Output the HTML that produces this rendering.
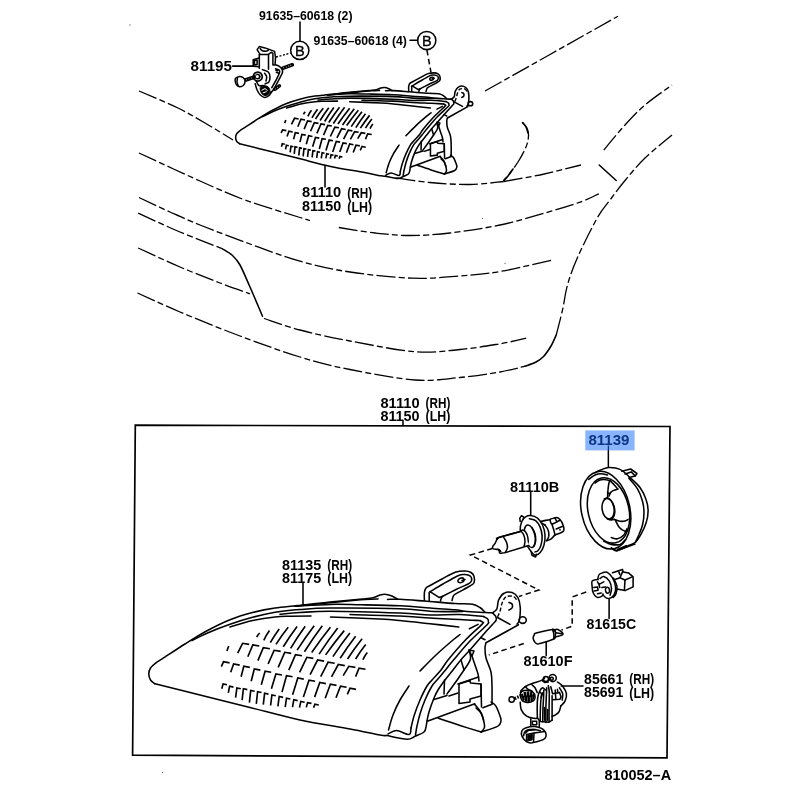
<!DOCTYPE html>
<html><head><meta charset="utf-8"><title>810052-A</title>
<style>html,body{margin:0;padding:0;background:#fff}body{width:800px;height:800px;overflow:hidden}svg{display:block;transform:translateZ(0);will-change:transform}</style>
</head><body>
<svg width="800" height="800" viewBox="0 0 800 800">
<defs>
<style>
.l{fill:none;stroke:#000;stroke-width:1.55;stroke-linecap:round;stroke-linejoin:round;vector-effect:non-scaling-stroke}
.h{fill:none;stroke:#000;stroke-width:1.65;stroke-linecap:butt;stroke-linejoin:miter;vector-effect:non-scaling-stroke}
.w{fill:#fff;stroke:#000;stroke-width:1.5;stroke-linejoin:round;vector-effect:non-scaling-stroke}
.k{fill:#000;stroke:#000;stroke-width:1;stroke-linejoin:round}
.c{fill:none;stroke:#000;stroke-width:1.3;stroke-dasharray:19 3.2 6 3.2}
.d{fill:none;stroke:#000;stroke-width:1.5;stroke-dasharray:5.5 3.5}
.d2{fill:none;stroke:#000;stroke-width:1.4;stroke-dasharray:4 2;vector-effect:non-scaling-stroke}
.dt{fill:none;stroke:#000;stroke-width:1.4;stroke-dasharray:2 1.6}
.box{fill:none;stroke:#000;stroke-width:1.7}
text{font-family:"Liberation Sans",sans-serif;font-weight:bold;font-size:14.5px;fill:#000}
.b{font-weight:normal;font-size:14.5px;stroke:#000;stroke-width:0.35px}
</style>
<g id="lamp">
<path class="l" d="M155.0 683.8 C154.2 683.1 151.5 681.6 150.5 680.0 C149.5 678.4 148.8 676.0 148.8 674.0 C148.8 672.0 149.3 669.9 150.5 668.0 C151.7 666.1 154.0 664.4 156.0 662.8 C158.0 661.2 157.7 661.7 162.5 658.6 C167.3 655.5 177.5 648.7 185.0 644.0 C192.5 639.3 200.0 634.5 207.5 630.5 C215.0 626.5 222.5 622.7 230.0 619.7 C237.5 616.7 245.0 614.5 252.5 612.5 C260.0 610.5 267.5 609.1 275.0 608.0 C282.5 606.9 288.3 606.6 297.5 605.6 C306.7 604.6 318.8 603.0 330.0 601.9 C341.2 600.8 357.7 599.5 365.0 598.8 C372.3 598.0 371.2 598.1 373.8 597.5 C376.2 596.9 377.9 595.5 380.0 595.0 C382.1 594.5 384.2 594.2 386.2 594.4 C388.3 594.6 390.5 595.4 392.5 596.2 C394.5 597.1 397.1 598.9 398.0 599.4"/>
<path class="l" d="M387.5 599.4 C389.6 599.4 393.8 599.0 400.0 599.3 C406.2 599.6 415.8 600.4 425.0 601.1 C434.2 601.8 447.1 603.0 455.0 603.5 C462.9 604.0 468.3 603.5 472.5 604.2 C476.7 604.9 477.9 606.2 480.0 607.5 C482.1 608.8 484.2 611.4 485.0 612.2"/>
<path class="l" d="M295.0 606.3 C300.8 605.7 318.3 603.9 330.0 602.8 C341.7 601.7 357.0 600.2 365.0 599.6 C373.0 599.0 375.8 599.0 378.0 598.9"/>
<path class="l" d="M155.0 683.8 C162.5 685.6 184.2 691.0 200.0 695.0 C215.8 699.0 233.3 703.3 250.0 707.5 C266.7 711.7 283.3 716.4 300.0 720.0 C316.7 723.6 336.7 726.5 350.0 729.0 C363.3 731.5 373.8 733.9 380.0 735.0 C386.2 736.1 385.8 735.4 387.0 735.5"/>
<path class="l" d="M387.0 735.5 C390.3 736.1 402.3 739.1 407.0 739.2 C411.7 739.3 412.2 737.5 415.0 736.3 C417.8 735.1 422.2 733.5 424.0 732.0 C425.8 730.5 425.5 728.8 426.0 727.0 C426.5 725.2 426.8 722.0 427.0 721.0"/>
<path class="l" d="M388.0 734.0 C389.4 733.4 393.0 730.4 396.5 730.5 C400.0 730.6 406.6 734.9 409.0 734.5 C411.4 734.1 410.7 729.1 411.0 728.0"/>
<path class="l" d="M295.0 606.3 C300.8 606.0 319.0 604.6 330.0 604.4 C341.0 604.1 349.3 604.6 361.0 604.8 C372.7 605.0 388.5 605.2 400.0 605.8 C411.5 606.3 420.8 607.4 430.0 608.1 C439.2 608.8 449.2 609.3 455.0 609.8 C460.8 610.3 460.0 610.8 465.0 611.2 C470.0 611.7 480.4 612.2 485.0 612.5 C489.6 612.8 491.2 612.8 492.5 612.8"/>
<path class="l" d="M492.5 612.8 C493.0 613.4 495.0 615.0 495.6 616.2 C496.2 617.5 496.8 618.6 496.2 620.0 C495.7 621.4 495.0 621.6 492.5 624.4 C490.0 627.2 484.0 633.8 481.2 636.9 C478.5 640.0 478.0 640.6 476.0 643.0 C474.0 645.4 471.7 648.0 469.0 651.0 C466.3 654.0 462.7 657.8 460.0 661.0 C457.3 664.2 455.5 666.8 453.0 670.0 C450.5 673.2 447.5 676.7 445.0 680.0 C442.5 683.3 439.8 687.0 438.0 690.0 C436.2 693.0 435.5 694.3 434.0 698.0 C432.5 701.7 430.2 708.2 429.0 712.0 C427.8 715.8 427.3 719.5 427.0 721.0"/>
<path class="l" d="M480.6 637.5 L485.0 639.7"/>
<path class="l" d="M192.0 640.6 C194.6 639.3 201.2 635.7 207.5 633.0 C213.8 630.3 222.5 626.9 230.0 624.3 C237.5 621.7 245.0 619.3 252.5 617.3 C260.0 615.3 267.1 613.6 275.0 612.3 C282.9 611.0 290.8 610.2 300.0 609.5 C309.2 608.8 313.3 608.2 330.0 608.1 C346.7 608.0 383.3 608.2 400.0 608.8 C416.7 609.3 420.8 610.8 430.0 611.2 C439.2 611.7 449.5 611.6 455.0 611.6 C460.5 611.6 461.7 611.4 463.0 611.4"/>
<path class="l" d="M280.0 614.3 C283.3 614.0 291.7 613.1 300.0 612.6 C308.3 612.1 313.3 611.2 330.0 611.2 C346.7 611.3 383.3 612.4 400.0 613.0 C416.7 613.6 420.0 614.7 430.0 615.0 C440.0 615.3 451.0 614.3 460.0 614.6 C469.0 614.9 479.8 616.3 483.8 616.6"/>
<path class="l" d="M483.8 616.6 C484.4 617.0 486.7 617.9 487.5 618.8 C488.3 619.6 488.5 620.9 488.4 621.9 C488.3 622.9 490.0 621.8 486.9 625.0 C483.8 628.2 475.6 635.2 470.0 641.0 C464.4 646.8 457.6 655.2 453.5 660.0 C449.4 664.8 448.2 666.7 445.5 670.0 C442.8 673.3 439.2 677.3 437.0 680.0 C434.8 682.7 434.0 682.7 432.0 686.0 C430.0 689.3 427.0 695.3 425.0 700.0 C423.0 704.7 421.3 709.7 420.0 714.0 C418.7 718.3 417.8 722.5 417.0 726.0 C416.2 729.5 415.8 733.5 415.5 735.0"/>
<path class="l" d="M350.0 614.5 C358.3 614.8 386.7 615.4 400.0 616.0 C413.3 616.6 420.0 617.5 430.0 618.1 C440.0 618.7 451.7 619.0 460.0 619.4 C468.3 619.8 476.7 620.4 480.0 620.6"/>
<path class="l" d="M480.0 620.6 C480.4 620.9 482.2 621.6 482.5 622.2 C482.8 622.8 484.8 621.4 481.9 624.4 C479.0 627.4 470.6 634.6 465.0 640.5 C459.4 646.4 452.0 655.1 448.0 660.0 C444.0 664.9 443.7 666.7 441.0 670.0 C438.3 673.3 434.3 677.3 432.0 680.0 C429.7 682.7 429.0 682.7 427.0 686.0 C425.0 689.3 422.2 695.0 420.0 700.0 C417.8 705.0 415.5 711.3 414.0 716.0 C412.5 720.7 411.5 726.0 411.0 728.0"/>
<path class="l" d="M230.0 627.0 C233.8 625.9 245.0 622.3 252.5 620.6 C260.0 618.9 268.8 617.7 275.0 617.0 C281.2 616.3 284.0 616.4 290.0 616.2 C296.0 616.0 307.5 616.0 311.0 616.0"/>
<path class="l" d="M330.5 617.0 C338.8 617.3 368.4 618.4 380.0 619.0 C391.6 619.6 391.7 619.7 400.0 620.5 C408.3 621.3 420.2 622.7 430.0 623.8 C439.8 624.8 454.0 626.4 458.8 626.9"/>
<path class="l" d="M469.4 628.8 L478.1 624.4"/>
<path class="l" d="M460.0 634.5 C458.8 635.4 457.0 636.6 453.0 640.0 C449.0 643.4 441.5 649.8 436.0 655.0 C430.5 660.2 422.7 668.3 420.0 671.0"/>
<path class="l" d="M409.0 686.0 C407.5 688.3 402.7 695.2 400.0 700.0 C397.3 704.8 394.9 710.0 393.0 715.0 C391.1 720.0 389.2 727.5 388.5 730.0"/>
<path class="l" d="M424.4 600.6 C424.4 599.2 424.1 594.6 424.4 592.5 C424.7 590.4 425.2 589.1 426.0 588.0 C426.8 586.9 426.6 587.5 429.2 586.0 C431.9 584.5 437.7 581.3 442.0 579.0 C446.3 576.7 451.4 573.5 455.2 572.2 C459.1 570.9 462.4 571.0 465.0 571.0 C467.6 571.0 469.5 571.6 471.0 572.5 C472.5 573.4 473.5 574.5 474.0 576.2 C474.5 578.0 474.7 581.1 474.0 582.8 C473.3 584.4 473.1 584.1 470.0 586.0 C466.9 587.9 458.1 592.3 455.2 594.1 C452.4 595.9 453.5 595.9 453.0 597.0 C452.5 598.1 452.2 600.0 452.0 600.6"/>
<path class="l" d="M430.0 591.7 C432.2 590.4 438.5 586.6 443.0 584.0 C447.5 581.4 453.6 577.8 456.9 576.2 C460.2 574.7 461.1 574.7 463.0 574.5 C464.9 574.3 466.8 574.4 468.2 575.0 C469.7 575.6 471.2 576.6 471.5 577.9 C471.8 579.2 472.5 580.8 469.9 582.8 C467.3 584.7 460.6 587.2 456.0 589.5 C451.4 591.8 444.5 595.3 442.2 596.5"/>
<path class="l" d="M429.2 592.5 L429.2 600.6"/>
<path class="l" d="M430.0 591.7 L439.0 597.4 L442.2 596.5"/>
<path class="l" d="M442.2 596.5 C442.0 596.9 441.3 598.2 441.0 599.0 C440.7 599.8 440.6 600.7 440.5 601.0"/>
<ellipse class="l" cx="461" cy="580.3" rx="3.2" ry="2.2" transform="rotate(-20 461 580.3)"/>
<path class="l" d="M462.0 580.5 L465.0 579.5"/>
<path class="l" d="M492.5 612.8 C493.2 612.1 495.9 610.9 496.9 608.8 C497.9 606.6 497.4 602.6 498.6 600.0 C499.8 597.4 501.8 594.5 504.0 593.3 C506.2 592.0 509.8 591.8 512.1 592.5 C514.4 593.2 516.4 595.0 517.8 597.4 C519.2 599.8 520.0 603.3 520.2 607.1 C520.5 610.9 519.9 617.2 519.4 620.1 C518.9 623.0 517.4 623.5 517.0 624.2"/>
<path class="d2" d="M497.5 616.9 C497.9 616.0 499.2 613.7 500.0 611.2 C500.8 608.8 501.3 604.7 502.4 602.2 C503.5 599.8 504.5 597.5 506.4 596.6 C508.3 595.7 512.0 595.9 513.8 596.6 C515.5 597.3 516.5 599.9 517.0 600.6"/>
<path class="l" d="M509.0 602.5 C509.5 602.8 511.5 603.1 512.0 604.0 C512.5 604.9 512.5 607.0 512.0 608.0 C511.5 609.0 509.5 609.7 509.0 610.0"/>
<ellipse class="l" cx="522.7" cy="620.1" rx="3.6" ry="3.3"/>
<path class="l" d="M497.5 617.5 L510.0 624.4"/>
<path class="l" d="M518.5 624.8 L486.0 642.8"/>
<path class="l" d="M486.0 642.8 C485.8 643.7 485.0 645.5 485.0 648.0 C485.0 650.5 485.0 654.0 486.0 658.0 C487.0 662.0 490.0 667.3 491.0 672.0 C492.0 676.7 491.8 680.7 492.0 686.0 C492.2 691.3 492.0 701.0 492.0 704.0"/>
<path class="l" d="M469.0 650.0 L474.0 651.0 L472.0 656.0Z"/>
<path class="l" d="M469.0 650.0 C469.2 651.5 471.3 655.7 470.5 659.0 C469.7 662.3 466.6 666.0 464.0 670.0 C461.4 674.0 457.8 679.0 455.0 683.0 C452.2 687.0 448.3 692.2 447.0 694.0"/>
<path class="l" d="M461.0 660.0 L464.0 670.0"/>
<path class="l" d="M472.0 656.0 C472.5 657.5 474.0 662.0 475.0 665.0 C476.0 668.0 477.3 671.3 478.0 674.0 C478.7 676.7 478.8 679.8 479.0 681.0"/>
<path class="l" d="M444.5 680.0 L444.0 694.0"/>
<path class="l" d="M434.0 699.5 L447.0 695.5"/>
<path class="l" d="M449.0 696.0 L458.0 693.0"/>
<path class="l" d="M458.0 684.0 L478.5 677.0"/>
<path class="l" d="M459.0 684.0 L470.0 680.5 L470.5 683.0 L481.0 684.0 L481.0 696.0 L470.0 699.0 L470.0 702.0 L459.0 703.5Z"/>
<path class="l" d="M481.0 684.0 L481.5 707.0"/>
<path class="l" d="M428.0 721.0 L474.8 703.7"/>
<path class="l" d="M438.2 718.3 C441.8 719.5 452.8 723.2 460.0 725.5 C467.2 727.8 477.7 731.0 481.2 732.1"/>
<path class="l" d="M481.2 732.1 C484.0 731.1 494.2 728.2 497.5 726.4 C500.8 724.5 500.6 722.8 501.0 721.0 C501.4 719.2 500.9 718.4 500.0 715.9 C499.1 713.4 497.4 708.4 495.9 706.1 C494.4 703.8 491.8 702.7 491.0 702.0"/>
<path class="l" d="M482.9 707.8 L492.0 704.3"/>
<path class="l" d="M474.8 704.5 C475.6 705.6 478.6 708.8 480.0 711.0 C481.4 713.2 482.1 714.8 482.9 717.5 C483.6 720.2 484.8 724.8 484.5 727.2 C484.2 729.7 481.8 731.3 481.2 732.1"/>
<path class="l" d="M476.0 708.0 C476.8 708.8 479.8 711.0 481.0 713.0 C482.2 715.0 483.1 718.8 483.5 720.0"/>
<path class="h" d="M256.8 637.1 Q257.8 634.7 259.7 633.0 M263.8 640.3 Q266.2 635.1 269.5 630.6 M270.3 642.7 Q274.3 635.5 279.2 628.9 M276.0 644.4 Q281.6 635.5 288.2 627.3 M283.3 646.8 Q289.7 636.3 297.1 626.5 M290.6 648.4 Q297.4 637.0 305.2 626.2 M297.1 650.1 Q305.2 637.5 314.2 625.7 M304.4 651.7 Q312.9 638.3 322.3 625.7 M311.7 652.5 Q320.6 639.6 330.4 627.3 M319.1 654.1 Q327.9 640.8 337.7 628.1 M325.6 654.9 Q334.4 642.4 344.2 630.6 M332.9 656.6 Q340.9 644.4 349.9 633.0 M340.2 658.2 Q347.4 646.9 355.6 636.2 M347.5 659.0 Q354.3 648.5 362.1 638.7 M355.6 659.0 Q360.2 651.3 365.7 644.4 M362.9 659.8 Q364.6 655.8 367.3 652.5 M226.9 651.0 L228.7 646.0 M237.7 653.2 L242.6 643.3 L249.2 644.4 M247.8 656.8 L252.8 644.9 L259.3 646.0 M257.9 660.6 L263.3 647.6 L269.9 648.7 M268.1 664.0 L274.1 650.3 L280.7 651.4 M278.2 667.4 L284.7 652.3 L291.2 653.4 M288.8 670.1 L295.5 654.6 L302.0 655.7 M299.6 672.3 L306.8 657.3 L313.3 658.4 M310.1 674.6 L317.6 660.0 L324.1 661.1 M320.7 676.6 L328.1 662.2 L334.7 663.3 M331.5 676.8 L338.3 664.5 L344.8 665.6 M343.2 675.7 L348.8 666.3 L355.4 667.4 M355.6 676.6 L359.0 668.1 L365.5 669.2 M221.3 666.7 L223.5 661.8 L229.6 662.9 M230.7 672.3 L233.6 664.0 L239.7 665.1 M241.1 676.8 L243.8 666.3 L249.8 667.4 M251.2 681.3 L254.3 669.0 L260.4 670.1 M261.3 684.7 L265.1 671.2 L271.2 672.3 M271.4 688.8 L275.9 673.9 L282.0 675.0 M282.0 692.1 L286.5 675.7 L292.6 676.8 M292.6 694.8 L297.8 678.0 L303.8 679.1 M303.4 697.1 L309.0 680.2 L315.1 681.3 M314.6 697.1 L319.8 682.5 L325.9 683.6 M325.2 698.2 L330.4 684.3 L336.5 685.4 M336.0 697.8 L340.5 686.1 L346.6 687.2 M347.3 694.4 L350.0 688.3 L356.0 689.4 M221.8 688.7 L223.1 683.9 L227.0 684.7 M228.3 692.8 L229.6 686.3 L233.5 687.1 M235.6 697.7 L236.9 687.9 L240.8 688.7 M242.1 700.1 L243.4 688.7 L247.3 689.6 M249.4 702.6 L250.7 690.4 L254.6 691.2 M256.3 703.9 L257.6 691.7 L261.5 692.5 M263.3 704.7 L264.6 693.3 L268.5 694.1 M270.6 705.5 L271.9 694.9 L275.8 695.7 M277.9 706.3 L279.2 696.5 L283.1 697.4 M285.2 707.1 L286.5 698.2 L290.4 699.0 M292.5 707.1 L293.8 699.8 L297.7 700.6 M299.5 707.6 L300.8 701.4 L304.7 702.2 M306.3 707.4 L307.6 702.6 L311.5 703.4 M313.6 707.8 L314.9 704.2 L318.8 705.0"/>
</g>
</defs>
<rect width="800" height="800" fill="#fff"/>

<path class="c" d="M485.0 91.0 L550.0 54.5 L618.0 16.2"/>
<path class="c" d="M139.0 91.0 C145.5 93.8 167.0 102.7 178.0 108.0 C189.0 113.3 195.8 117.7 205.0 123.0 C214.2 128.3 228.3 137.2 233.0 140.0"/>
<path class="c" d="M139.0 153.0 C149.2 157.7 182.3 173.2 200.0 181.0 C217.7 188.8 228.3 193.9 245.0 200.0 C261.7 206.1 289.2 214.1 300.0 217.5 C310.8 220.9 308.3 220.0 310.0 220.5"/>
<path class="c" d="M338.8 227.5 C344.8 228.4 363.1 231.7 375.0 233.0 C386.9 234.3 397.5 235.5 410.0 235.5 C422.5 235.5 435.0 234.8 450.0 233.0 C465.0 231.2 484.2 228.3 500.0 225.0 C515.8 221.7 531.2 217.0 545.0 213.0 C558.8 209.0 573.5 204.5 582.5 201.2 C591.5 198.0 596.0 195.0 598.8 193.8"/>
<path class="c" d="M139.0 197.5 C144.2 199.9 159.8 207.4 170.0 212.0 C180.2 216.6 186.7 219.7 200.0 225.0 C213.3 230.3 233.3 238.0 250.0 244.0 C266.7 250.0 283.3 256.6 300.0 261.2 C316.7 265.9 331.2 269.2 350.0 272.0 C368.8 274.8 394.2 277.6 412.5 278.2 C430.8 278.9 445.4 277.1 460.0 276.0 C474.6 274.9 484.6 274.2 500.0 271.5 C515.4 268.8 543.8 261.9 552.5 260.0"/>
<path class="c" d="M138.2 213.2 C145.2 216.4 166.0 226.1 180.0 232.0 C194.0 237.9 215.4 246.0 222.5 248.8"/>
<path class="l" d="M222.5 248.8 C224.2 249.9 229.6 252.8 232.5 255.5 C235.4 258.2 237.1 259.8 240.0 265.0 C242.9 270.2 246.2 278.5 250.0 287.0 C253.8 295.5 260.4 311.4 262.5 316.2"/>
<path class="c" d="M264.0 318.5 C270.0 320.4 285.7 326.2 300.0 330.0 C314.3 333.8 330.8 337.4 350.0 341.0 C369.2 344.6 396.7 350.3 415.0 351.8 C433.3 353.2 445.8 350.8 460.0 349.5 C474.2 348.2 489.0 345.6 500.0 343.8 C511.0 341.9 521.9 339.2 526.2 338.2"/>
<path class="c" d="M138.2 248.0 C145.2 251.2 166.4 261.2 180.0 267.0 C193.6 272.8 208.3 278.5 220.0 283.0 C231.7 287.5 245.0 292.0 250.0 293.8"/>
<path class="c" d="M137.5 293.0 C144.6 296.2 162.9 304.8 180.0 312.0 C197.1 319.2 220.0 328.5 240.0 336.0 C260.0 343.5 281.7 351.4 300.0 357.0 C318.3 362.6 330.8 365.7 350.0 369.5 C369.2 373.3 396.7 378.7 415.0 380.0 C433.3 381.3 445.8 378.8 460.0 377.5 C474.2 376.2 489.2 373.9 500.0 372.0 C510.8 370.1 520.8 367.2 525.0 366.2"/>
<path class="l" d="M525.0 366.2 C526.8 365.5 532.9 363.7 536.0 362.0 C539.1 360.3 541.2 358.9 543.8 356.2 C546.2 353.6 548.9 349.5 551.0 346.0 C553.1 342.5 555.4 336.8 556.2 335.0"/>
<path class="c" d="M556.2 335.0 C557.3 330.8 560.6 318.3 562.5 310.0 C564.4 301.7 565.0 293.8 567.5 285.0 C570.0 276.2 572.5 268.8 577.5 257.5 C582.5 246.2 592.1 227.1 597.5 217.5 C602.9 207.9 605.4 206.2 610.0 200.0 C614.6 193.8 619.2 187.5 625.0 180.5 C630.8 173.5 637.2 165.6 645.0 158.0 C652.8 150.4 667.5 138.8 672.0 135.0"/>
<path class="c" d="M603.8 150.0 C607.3 145.8 618.1 132.5 625.0 125.0 C631.9 117.5 637.2 111.7 645.0 105.0 C652.8 98.3 667.5 88.3 672.0 85.0"/>
<path class="l" d="M599.2 165.0 L616.2 180.5"/>
<path class="c" d="M503.8 181.5 L540.0 175.0 L581.0 165.0"/>
<path class="c" d="M522.5 122.5 C523.2 123.4 526.0 125.8 527.0 128.0 C528.0 130.2 528.7 132.8 528.5 136.0 C528.3 139.2 527.8 142.7 526.0 147.0 C524.2 151.3 520.7 157.7 518.0 162.0 C515.3 166.3 512.4 169.9 510.0 173.0 C507.6 176.1 504.8 179.2 503.8 180.5"/>
<path class="l" d="M522.5 122.5 C523.1 123.2 525.1 125.2 526.0 127.0 C526.9 128.8 527.7 132.0 528.0 133.0"/>
<path class="l" d="M513.0 169.0 C512.2 170.2 509.5 174.1 508.0 176.0 C506.5 177.9 504.5 179.8 503.8 180.5"/>
<path class="c" d="M396.5 178.0 C402.1 178.8 417.8 181.4 430.0 182.5 C442.2 183.6 457.7 184.7 470.0 184.5 C482.3 184.3 498.1 182.0 503.8 181.5"/>
<use href="#lamp" transform="translate(142.19 -285.72) scale(0.6280)"/>
<use href="#lamp"/>
<path class="box" d="M135.3 425.2 L670 426.5 L667 757.8 L132.6 755.2 Z"/>
<path class="l" d="M403.0 420.5 L403.0 425.5"/>
<circle cx="130.0" cy="25.0" r="0.7" fill="#777"/>
<circle cx="162.5" cy="772.5" r="0.7" fill="#777"/>
<circle cx="482.5" cy="218.5" r="0.7" fill="#777"/>
<circle cx="505.0" cy="263.5" r="0.7" fill="#777"/>
<text x="259.0" y="20.2" textLength="93.5" lengthAdjust="spacingAndGlyphs" style="font-size:12.2px;fill:#000">91635–60618 (2)</text>
<path class="l" d="M300.0 22.0 L300.0 41.0"/>
<circle class="l" cx="299.8" cy="50.4" r="9.1"/>
<text class="b" x="299.8" y="55.6" text-anchor="middle">B</text>
<text x="313.6" y="45.2" textLength="93.3" lengthAdjust="spacingAndGlyphs" style="font-size:12.2px;fill:#000">91635–60618 (4)</text>
<path class="l" d="M410.0 40.3 L417.5 40.3"/>
<circle class="l" cx="426.75" cy="40.5" r="9.1"/>
<text class="b" x="426.75" y="45.7" text-anchor="middle">B</text>
<path class="d" d="M426.9 50.0 L431.0 72.5"/>
<text x="190.6" y="71.4" textLength="41.4" lengthAdjust="spacingAndGlyphs" style="font-size:14.5px;fill:#000">81195</text>
<path class="l" d="M232.6 66.1 L253.2 66.1"/>
<path class="dt" d="M276.0 57.0 L290.6 53.1"/>
<text x="302.1" y="197.2" textLength="39.2" lengthAdjust="spacingAndGlyphs" style="font-size:14.5px;fill:#000">81110</text>
<text x="347.3" y="197.5" textLength="24.8" lengthAdjust="spacingAndGlyphs" style="font-size:14px">(RH)</text>
<text x="302.1" y="211.2" textLength="39.2" lengthAdjust="spacingAndGlyphs" style="font-size:14.5px;fill:#000">81150</text>
<text x="347.3" y="211.5" textLength="24.8" lengthAdjust="spacingAndGlyphs" style="font-size:14px">(LH)</text>
<path class="l" d="M325.0 165.5 L325.0 187.0"/>
<text x="380.4" y="407.6" textLength="39.2" lengthAdjust="spacingAndGlyphs" style="font-size:14.5px;fill:#000">81110</text>
<text x="425.6" y="407.9" textLength="24.8" lengthAdjust="spacingAndGlyphs" style="font-size:14px">(RH)</text>
<text x="380.4" y="420.9" textLength="39.2" lengthAdjust="spacingAndGlyphs" style="font-size:14.5px;fill:#000">81150</text>
<text x="425.6" y="421.2" textLength="24.8" lengthAdjust="spacingAndGlyphs" style="font-size:14px">(LH)</text>
<rect x="585.3" y="430.4" width="49.3" height="20" fill="#8ab4fb"/>
<text x="588.4" y="445.3" textLength="41.1" lengthAdjust="spacingAndGlyphs" style="font-size:14.5px;fill:#0d3585">81139</text>
<path d="M608.4 445.5 L608.4 467.5" stroke="#0d3585" stroke-width="1.3" fill="none"/>
<path d="M608.4 450.4 L608.4 467.5" stroke="#000" stroke-width="1.3" fill="none"/>
<text x="510.0" y="492.1" textLength="49.3" lengthAdjust="spacingAndGlyphs" style="font-size:14.5px;fill:#000">81110B</text>
<path class="l" d="M530.7 492.5 L530.7 515.6"/>
<text x="282.1" y="569.5" textLength="39.2" lengthAdjust="spacingAndGlyphs" style="font-size:14.5px;fill:#000">81135</text>
<text x="327.3" y="569.8" textLength="24.8" lengthAdjust="spacingAndGlyphs" style="font-size:14px">(RH)</text>
<text x="282.1" y="582.9" textLength="39.2" lengthAdjust="spacingAndGlyphs" style="font-size:14.5px;fill:#000">81175</text>
<text x="327.3" y="583.2" textLength="24.8" lengthAdjust="spacingAndGlyphs" style="font-size:14px">(LH)</text>
<path class="l" d="M303.0 583.0 L303.0 605.2"/>
<text x="586.6" y="628.8" textLength="49.5" lengthAdjust="spacingAndGlyphs" style="font-size:14.5px;fill:#000">81615C</text>
<path class="l" d="M609.1 598.8 L609.1 618.5"/>
<text x="523.4" y="666.0" textLength="49.1" lengthAdjust="spacingAndGlyphs" style="font-size:14.5px;fill:#000">81610F</text>
<path class="l" d="M546.2 641.9 L546.2 655.6"/>
<text x="584.1" y="684.1" textLength="39.2" lengthAdjust="spacingAndGlyphs" style="font-size:14.5px;fill:#000">85661</text>
<text x="629.3" y="684.4" textLength="24.8" lengthAdjust="spacingAndGlyphs" style="font-size:14px">(RH)</text>
<text x="584.1" y="697.3" textLength="39.2" lengthAdjust="spacingAndGlyphs" style="font-size:14.5px;fill:#000">85691</text>
<text x="629.3" y="697.6" textLength="24.8" lengthAdjust="spacingAndGlyphs" style="font-size:14px">(LH)</text>
<path class="l" d="M561.2 685.9 L583.0 685.9"/>
<text x="604.4" y="780.2" textLength="66.7" lengthAdjust="spacingAndGlyphs" style="font-size:14.5px;fill:#000">810052–A</text>
<path class="d" d="M492.5 548.5 L470.5 555.0 L538.8 590.0 L519.0 596.5"/>
<path class="d" d="M586.2 592.0 L572.2 597.0 L572.2 626.2 L561.5 630.0"/>
<path class="d" d="M523.8 643.5 L488.8 655.0"/>
<g id="cover">
<path class="l" d="M595.0 472.8 C596.0 472.2 599.0 470.6 601.2 469.8 C603.5 468.9 605.6 467.6 608.8 467.5 C611.9 467.4 616.5 467.7 620.0 469.4 C623.5 471.0 626.7 474.5 630.0 477.5 C633.3 480.5 637.3 483.8 640.0 487.5 C642.7 491.2 644.9 496.0 646.2 500.0 C647.6 504.0 648.1 507.5 648.1 511.2 C648.1 515.0 647.4 518.8 646.2 522.5 C645.1 526.2 643.1 530.4 641.2 533.8 C639.4 537.1 637.5 540.4 635.0 542.5 C632.5 544.6 629.4 545.1 626.2 546.5 C623.1 547.9 618.8 550.4 616.2 550.6 C613.8 550.8 612.1 548.2 611.2 547.8"/>
<path class="l" d="M628.8 478.1 C630.2 479.9 635.2 484.9 637.5 488.8 C639.8 492.6 641.4 497.3 642.5 501.2 C643.6 505.2 644.0 508.5 644.0 512.5 C644.0 516.5 643.4 521.2 642.5 525.0 C641.6 528.8 639.9 532.2 638.8 535.0 C637.6 537.8 636.1 540.7 635.6 541.9"/>
<ellipse class="l" cx="605.7" cy="510.2" rx="24.2" ry="39.4" transform="rotate(-12.5 605.7 510.2)"/>
<ellipse class="l" cx="608.5" cy="510.4" rx="20.4" ry="33.2" transform="rotate(-12.5 608.5 510.4)"/>
<path class="l" d="M588.8 479.4 C589.8 478.6 592.9 475.9 595.0 475.0 C597.1 474.1 599.2 473.8 601.2 473.8 C603.3 473.8 606.5 474.8 607.5 475.0"/>
<path class="l" d="M595.0 483.1 C595.8 482.6 598.1 480.6 600.0 480.0 C601.9 479.4 604.6 479.5 606.2 479.8 C607.9 480.0 609.4 481.0 610.0 481.2"/>
<path class="l" d="M603.8 541.2 C605.0 541.8 608.5 543.9 611.2 544.4 C614.0 544.9 617.7 545.1 620.0 544.4 C622.3 543.6 624.2 540.7 625.0 540.0"/>
<path class="l" d="M611.2 537.5 C612.3 537.7 615.4 539.2 617.5 538.8 C619.6 538.3 622.2 536.7 623.8 535.0 C625.3 533.3 626.4 529.8 626.9 528.8"/>
<path class="l" d="M621.9 471.2 L630.6 469.0 L636.9 473.5 L635.2 476.0 L630.0 477.2"/>
<path class="l" d="M625.0 474.0 L631.2 471.9 L635.2 476.0"/>
<path class="l" d="M613.1 548.5 L616.5 551.0 L626.2 547.2 L635.0 544.0"/>
<path class="l" d="M617.5 549.4 L626.2 545.6"/>
<ellipse class="l" cx="608.1" cy="508.8" rx="6.0" ry="10.3" transform="rotate(-8.0 608.1 508.8)"/>
<path class="l" d="M604.4 498.8 C604.9 498.6 606.4 497.8 607.5 498.1 C608.6 498.4 610.2 499.3 611.2 500.6 C612.3 502.0 613.4 504.3 614.0 506.2 C614.6 508.2 614.9 510.6 614.8 512.5 C614.6 514.4 613.9 516.4 613.1 517.5 C612.3 518.6 610.9 519.2 610.0 519.4 C609.1 519.6 607.9 518.9 607.5 518.8"/>
<path class="l" d="M607.5 498.1 C607.6 497.0 607.7 493.6 607.9 491.2 C608.1 488.9 608.4 485.5 608.8 483.8 C609.1 482.0 610.0 481.1 610.2 480.6"/>
<path class="l" d="M610.2 480.6 C610.8 481.2 612.5 483.0 613.8 484.4 C615.0 485.8 617.1 488.2 617.8 489.0"/>
<path class="l" d="M617.8 489.0 C617.0 489.3 614.3 490.0 613.1 490.6 C611.9 491.2 611.3 491.6 610.6 492.5 C609.9 493.4 609.3 495.6 609.0 496.2"/>
<path class="l" d="M607.5 492.5 C607.8 492.7 608.5 493.8 609.0 493.8 C609.5 493.8 610.4 492.7 610.6 492.5"/>
<path class="l" d="M614.4 519.4 C615.3 519.7 618.2 521.0 620.0 521.2 C621.8 521.5 623.6 521.3 625.0 521.0 C626.4 520.7 627.6 519.6 628.1 519.4"/>
<path class="l" d="M615.6 520.6 C616.2 521.8 617.8 525.7 619.4 527.5 C620.9 529.3 623.6 530.8 625.0 531.2 C626.4 531.7 627.3 530.2 627.8 530.0"/>
<path class="l" d="M607.5 518.8 C608.1 519.0 610.1 519.9 611.2 520.0 C612.4 520.1 613.9 519.5 614.4 519.4"/>
</g>
<g id="bulb">
<path class="l" d="M540.6 521.5 C542.2 521.1 547.4 520.0 550.0 519.4 C552.6 518.7 554.6 517.5 556.2 517.5 C557.9 517.5 558.9 518.1 560.0 519.4 C561.1 520.6 562.5 523.1 563.1 525.0 C563.8 526.9 564.3 529.3 563.8 530.6 C563.2 532.0 561.5 532.4 560.0 533.1 C558.5 533.9 556.5 534.1 555.0 535.0 C553.5 535.9 552.7 537.8 551.2 538.8 C549.8 539.8 547.1 540.6 546.2 541.0"/>
<path class="l" d="M550.0 519.4 C550.3 520.1 550.2 523.9 551.9 524.0 C553.5 524.1 558.6 520.9 560.0 520.2"/>
<path class="l" d="M551.9 524.0 C552.2 525.0 553.2 528.2 553.8 530.0 C554.3 531.8 554.8 534.2 555.0 535.0"/>
<path class="l" d="M555.0 518.1 L556.5 521.0"/>
<path class="l" d="M556.2 529.0 L562.8 526.2"/>
<circle cx="560.0" cy="529.8" r="0.9" fill="#000"/>
<path class="l" d="M545.0 525.0 C545.5 525.8 547.5 528.1 548.1 530.0 C548.8 531.9 549.0 534.5 548.8 536.2 C548.5 538.0 547.2 539.6 546.9 540.2"/>
<path class="l" d="M541.9 523.1 L545.0 525.0"/>
<path class="w" d="M530.6 515.6 C532.6 515.8 535.5 516.6 537.5 518.1 C539.5 519.7 541.2 522.2 542.5 525.0 C543.8 527.8 544.8 531.7 545.0 535.0 C545.2 538.3 544.8 542.1 544.0 545.0 C543.2 547.9 541.8 550.8 540.2 552.5 C538.8 554.2 536.7 555.4 535.0 555.0 C533.3 554.6 531.9 552.5 530.0 550.0 C528.1 547.5 525.4 543.3 523.8 540.0 C522.1 536.7 520.6 533.1 520.2 530.0 C519.9 526.9 521.0 523.4 521.9 521.2 C522.8 519.1 524.2 517.8 525.6 516.9 C527.1 515.9 528.6 515.4 530.6 515.6Z"/>
<path class="l" d="M529.4 518.8 C530.4 519.1 533.9 519.3 535.6 520.6 C537.4 522.0 538.9 524.4 540.0 526.9 C541.1 529.4 541.9 532.7 542.1 535.6 C542.3 538.5 541.9 541.9 541.2 544.4 C540.6 546.9 539.2 549.4 538.1 550.6 C537.1 551.9 535.5 551.7 535.0 551.9"/>
<path class="l" d="M520.2 521.5 L519.8 518.1 L521.5 515.6 L523.8 517.2 L523.1 519.4"/>
<path class="l" d="M531.2 551.5 L531.9 555.2 L535.6 557.0 L536.5 554.2"/>
<ellipse class="w" cx="529.8" cy="536.2" rx="5.2" ry="11.5" transform="rotate(-12.0 529.8 536.2)"/>
<ellipse class="w" cx="524.0" cy="538.1" rx="3.9" ry="8.3" transform="rotate(-12.0 524.0 538.1)"/>
<path class="l" d="M531.9 527.5 C532.4 528.5 534.4 531.5 535.0 533.8 C535.6 536.0 535.8 539.2 535.6 541.2 C535.4 543.3 534.1 545.4 533.8 546.2"/>
<path class="w" d="M521.2 531.2 C517.5 532.3 502.8 536.1 498.8 537.5 C494.7 538.9 497.5 538.4 496.9 539.4 C496.3 540.3 496.0 541.9 495.2 543.1 C494.5 544.4 492.8 545.9 492.5 546.9 C492.2 547.8 492.5 548.2 493.5 548.8 C494.5 549.3 497.2 549.3 498.8 550.0 C500.2 550.7 497.4 553.9 502.5 553.1 C507.6 552.3 524.9 546.6 529.4 545.2"/>
<path class="l" d="M521.2 531.2 L498.8 537.5 L496.9 539.4"/>
<path class="l" d="M503.8 537.5 C504.2 538.3 506.0 540.8 506.6 542.5 C507.2 544.2 507.7 545.8 507.5 547.5 C507.3 549.2 505.7 551.7 505.4 552.5"/>
<path class="w" d="M521.2 531.2 C521.7 531.9 523.1 533.3 523.8 535.0 C524.4 536.7 525.0 539.3 525.0 541.2 C525.0 543.2 524.2 545.6 524.0 546.5"/>
<path class="k" d="M497.5 548.8 L499.8 549.5 L501.2 551.5 L499.4 551.2Z"/>
</g>
<g id="socket">
<path class="l" d="M612.5 572.8 L622.5 569.4 L623.1 571.9 L628.8 573.1 L633.1 576.9 L633.1 586.9 L625.0 590.6 L616.9 589.0"/>
<path class="l" d="M622.5 571.9 L620.0 577.8 L625.0 580.0 L624.4 590.2"/>
<path class="l" d="M620.0 577.8 L615.0 579.5"/>
<path class="l" d="M625.0 580.0 L632.2 576.9"/>
<path class="l" d="M618.8 571.9 L619.8 574.4"/>
<path class="w" d="M598.8 575.0 C599.5 573.6 601.1 573.2 602.5 572.8 C603.9 572.3 605.2 571.4 606.9 572.2 C608.5 573.1 611.0 575.2 612.5 577.8 C614.0 580.3 615.4 584.6 615.6 587.5 C615.9 590.4 615.1 593.2 614.0 595.0 C612.9 596.8 610.6 598.2 609.0 598.5 C607.4 598.8 605.8 597.9 604.4 596.5 C603.0 595.1 601.7 592.5 600.6 590.0 C599.6 587.5 598.4 583.8 598.1 581.2 C597.8 578.8 598.0 576.4 598.8 575.0Z"/>
<path class="l" d="M600.0 578.5 C600.6 578.2 602.2 576.0 603.8 576.5 C605.3 577.0 608.1 579.2 609.4 581.2 C610.7 583.3 611.4 586.4 611.5 588.8 C611.6 591.1 610.2 594.2 610.0 595.2"/>
<path class="l" d="M613.5 578.1 C614.1 579.5 616.5 583.6 616.9 586.2 C617.3 588.9 616.6 591.9 616.0 593.8 C615.4 595.6 613.6 596.9 613.1 597.5"/>
<path class="w" d="M598.8 579.4 C598.0 579.5 595.5 579.6 594.4 580.0 C593.2 580.4 592.2 580.2 591.9 581.5 C591.5 582.8 592.1 585.8 592.2 587.5 C592.4 589.2 592.3 590.5 592.8 591.9 C593.2 593.2 594.2 594.8 595.0 595.8 C595.8 596.7 596.4 597.4 597.5 597.5 C598.6 597.6 600.9 596.9 601.9 596.2 C602.8 595.6 602.9 594.0 603.1 593.5"/>
<path class="l" d="M593.8 587.5 L597.5 586.9 L598.1 590.2 L594.0 591.0"/>
<path class="l" d="M597.5 581.9 L599.0 584.4 L603.8 581.9"/>
<path class="l" d="M599.0 584.4 L599.8 587.5"/>
<ellipse class="l" cx="607.5" cy="590.2" rx="2.0" ry="3.0" transform="rotate(-10.0 607.5 590.2)"/>
<path class="l" d="M601.9 587.5 L605.2 586.9"/>
<path class="l" d="M597.5 593.8 L601.2 593.1"/>
</g>
<g id="sbulb">
<path class="l" d="M536.2 633.1 C539.3 632.2 549.5 629.7 552.5 629.4 C555.5 629.1 553.6 631.2 554.0 631.2 C554.4 631.3 554.4 630.0 555.0 629.8 C555.6 629.5 556.5 629.0 557.8 629.5 C559.0 630.0 561.8 631.8 562.5 632.8 C563.2 633.7 563.1 634.5 561.9 635.2 C560.7 636.0 556.6 636.4 555.2 637.0 C553.9 637.6 556.5 637.9 553.8 639.0 C551.0 640.1 541.8 643.2 538.8 643.8 C535.7 644.3 536.2 643.4 535.2 642.5 C534.3 641.6 533.3 639.4 533.1 638.1 C533.0 636.8 533.9 635.5 534.4 634.6 C534.9 633.8 533.2 634.0 536.2 633.1Z"/>
<path class="l" d="M552.5 629.4 C552.7 630.1 553.5 632.1 553.8 633.8 C554.0 635.4 553.8 638.1 553.8 639.0"/>
<path class="l" d="M555.0 629.8 L555.6 632.8 L555.2 637.0"/>
<path class="l" d="M555.6 632.8 L561.9 633.8"/>
</g>
<g id="motor">
<circle class="l" cx="511.7" cy="699.5" r="2.7"/>
<path d="M514.7 698.6 L521.8 695.3" fill="none" stroke="#000" stroke-width="3.2" stroke-dasharray="1.6 1.2"/>
<path class="w" d="M520.7 692.8 C521.5 691.2 524.5 690.4 526.6 690.3 C528.6 690.2 531.5 691.0 532.9 692.1 C534.4 693.2 535.1 695.4 535.1 696.9 C535.1 698.4 534.3 700.2 532.9 701.1 C531.6 702.0 529.0 702.6 527.1 702.4 C525.2 702.2 522.8 701.7 521.8 700.1 C520.7 698.5 519.9 694.5 520.7 692.8Z"/>
<path d="M521.8 693.9 L523.9 700.6" fill="none" stroke="#000" stroke-width="2.2"/>
<path d="M524.6 692.1 L526.6 701.7" fill="none" stroke="#000" stroke-width="2.6"/>
<path d="M527.8 691.3 L529.2 702.0" fill="none" stroke="#000" stroke-width="2.6"/>
<path d="M531.0 692.1 L531.9 701.3" fill="none" stroke="#000" stroke-width="2.4"/>
<path d="M533.5 693.7 L533.8 699.5" fill="none" stroke="#000" stroke-width="1.6"/>
<path d="M521.2 696.9 L534.5 695.8" fill="none" stroke="#000" stroke-width="1.6"/>
<path class="l" d="M520.2 702.2 C520.4 703.4 520.2 707.3 521.2 709.6 C522.3 712.0 524.4 714.8 526.6 716.2 C528.7 717.7 532.2 718.0 534.0 718.3 C535.8 718.7 536.7 718.2 537.2 718.1"/>
<path class="l" d="M521.2 690.5 C522.0 689.8 523.6 687.7 525.5 686.5 C527.4 685.3 530.5 684.2 532.9 683.3 C535.4 682.4 538.4 681.8 540.4 680.9 C542.3 680.1 543.9 678.5 544.6 678.0"/>
<path class="l" d="M521.2 690.5 L520.4 692.8"/>
<path class="l" d="M525.5 686.5 C525.9 686.9 526.8 688.5 527.8 689.2 C528.9 690.0 531.2 690.7 531.9 691.0"/>
<path class="l" d="M531.9 684.7 C532.4 685.2 534.2 686.5 535.1 687.8 C535.9 689.2 536.8 691.8 537.2 692.6"/>
<circle class="l" cx="545.9" cy="679.0" r="2.6"/>
<circle class="l" cx="552.7" cy="678.0" r="3.6"/>
<circle class="l" cx="551.8" cy="678.8" r="1.5"/>
<path class="l" d="M542.5 680.9 L544.6 682.5 L548.3 682.0"/>
<path class="l" d="M557.4 682.0 C558.3 682.7 561.2 684.3 562.7 686.2 C564.2 688.2 566.0 691.2 566.4 693.7 C566.8 696.2 566.0 699.1 565.0 701.1 C564.1 703.2 561.5 705.1 560.8 705.9"/>
<path class="l" d="M560.8 705.9 C560.5 706.9 560.0 710.2 559.1 711.7 C558.2 713.3 556.6 714.2 555.5 714.9 C554.3 715.7 552.6 716.0 552.1 716.2"/>
<path class="l" d="M559.5 687.8 C560.0 688.8 562.2 691.6 562.7 693.7 C563.1 695.7 562.2 699.0 562.2 700.1"/>
<path class="l" d="M537.4 718.1 C537.4 716.4 537.1 710.9 537.2 707.5 C537.2 704.1 537.3 700.6 537.7 697.9 C538.1 695.3 538.7 693.2 539.5 691.6 C540.3 689.9 541.5 688.1 542.5 687.8 C543.5 687.6 545.0 689.6 545.5 690.0"/>
<path class="l" d="M540.2 721.3 C540.2 719.4 540.2 713.3 540.4 709.6 C540.5 705.9 540.6 701.8 541.0 699.0 C541.4 696.2 542.4 693.9 542.7 692.8"/>
<path class="l" d="M542.7 721.8 C542.7 719.8 542.8 713.8 542.9 709.6 C543.1 705.5 543.4 700.1 543.6 696.9 C543.7 693.6 543.7 691.1 543.8 690.0"/>
<path class="l" d="M545.9 722.4 C545.9 719.9 545.8 711.7 545.9 707.5 C546.0 703.2 546.2 700.1 546.3 696.9 C546.5 693.6 546.7 689.3 546.7 687.8"/>
<path class="l" d="M549.1 721.8 C549.1 719.4 549.0 712.4 549.1 707.5 C549.1 702.6 549.4 696.3 549.3 692.6 C549.2 689.0 548.5 686.9 548.3 685.7"/>
<path class="l" d="M552.1 720.2 C552.1 718.1 552.1 711.6 552.1 707.5 C552.1 703.4 552.1 697.8 552.1 695.8"/>
<path class="l" d="M537.4 718.1 L540.2 721.5 L549.1 722.2 L552.1 720.2"/>
<path class="l" d="M539.8 692.1 C540.1 692.4 541.5 693.0 541.6 693.9 C541.8 694.8 541.1 696.8 541.0 697.4"/>
<path class="l" d="M544.4 707.5 L544.6 720.2"/>
<path class="l" d="M547.6 709.6 L547.6 720.2"/>
<path class="l" d="M550.8 686.8 L552.6 693.7 L559.5 692.4 L561.1 696.9 L560.0 699.2 L552.9 699.8"/>
<path class="l" d="M555.2 690.0 L555.8 698.8"/>
<path class="l" d="M557.4 689.4 L557.9 692.8"/>
<path class="l" d="M530.8 718.7 L530.8 726.1"/>
<path class="l" d="M539.3 720.8 L539.3 726.4"/>
<path class="l" d="M532.4 721.3 L536.7 721.3 L536.7 724.7 L532.4 724.7Z"/>
<path class="l" d="M521.8 731.1 C522.3 729.7 523.3 728.6 525.5 727.9 C527.7 727.2 531.9 726.1 535.1 726.6 C538.2 727.1 543.0 728.9 544.6 730.9 C546.3 732.9 546.9 736.5 544.8 738.5 C542.7 740.5 535.1 742.2 532.1 742.8 C529.0 743.3 528.2 742.8 526.6 741.7 C524.9 740.6 522.9 738.2 522.1 736.4 C521.3 734.6 521.2 732.5 521.8 731.1Z"/>
<path class="l" d="M526.6 734.6 L534.0 733.0 L544.6 731.4"/>
<path class="l" d="M534.0 733.0 L533.5 742.0"/>
<path class="l" d="M526.6 734.6 L526.6 741.5"/>
<path class="l" d="M523.6 735.7 C523.9 734.9 523.9 732.1 525.3 731.1 C526.7 730.0 529.4 729.3 531.9 729.3 C534.4 729.2 539.0 730.4 540.4 730.7"/>
<path class="l" d="M525.5 733.0 C526.0 732.6 527.1 730.9 528.7 730.3 C530.3 729.8 534.0 729.9 535.1 729.8"/>
<path class="k" d="M527.8 735.3 L532.4 734.3 L532.2 739.9 L527.8 741.0Z"/>
</g>
<g id="bracket">
<path d="M282.7 68.2 L292.3 64.8" fill="none" stroke="#000" stroke-width="3.6" stroke-linecap="round"/>
<path d="M283.5 67.9 L292.3 64.8" fill="none" stroke="#fff" stroke-width="1.2" stroke-dasharray="0.6 1.9"/>
<path d="M274.8 89.2 L279.4 85.9" fill="none" stroke="#000" stroke-width="3.6" stroke-linecap="round"/>
<path d="M275.1 89.0 L279.4 85.9" fill="none" stroke="#fff" stroke-width="1.2" stroke-dasharray="0.6 1.9"/>
<path class="w" d="M257.1 49.6 L259.3 46.6 L265.0 47.9 L274.6 51.4 L275.5 57.5 L275.1 64.7 L272.9 64.9 L272.9 53.1 L271.1 52.2 L268.5 54.4 L260.2 54.4 L259.3 53.1Z"/>
<path class="l" d="M260.2 48.5 C260.5 48.9 261.3 50.2 262.4 50.7 C263.5 51.1 265.7 51.3 266.7 51.1 C267.8 50.9 268.3 49.9 268.7 49.6"/>
<path class="l" d="M259.3 54.4 L259.3 68.2"/>
<path class="l" d="M268.5 54.9 L268.5 69.3"/>
<path class="l" d="M259.0 57.9 L253.2 59.7 L253.2 66.2 L259.0 66.8"/>
<path class="l" d="M254.5 60.6 L257.1 60.1 L257.1 64.5 L254.5 65.0Z"/>
<path class="l" d="M275.1 64.7 C275.7 64.9 277.9 65.5 279.0 66.2 C280.1 66.9 281.2 67.9 281.8 68.9 C282.4 69.9 283.0 70.6 282.5 72.4 C282.0 74.1 280.5 76.7 279.0 79.5 C277.5 82.3 275.1 87.0 273.7 89.2 C272.4 91.4 271.6 92.1 271.1 92.7"/>
<path class="l" d="M275.5 68.9 C276.2 69.2 279.4 69.3 279.7 70.8 C280.0 72.3 278.6 75.0 277.2 77.8 C275.9 80.6 272.7 86.0 271.8 87.7"/>
<path d="M275.5 69.9 L278.3 70.8" fill="none" stroke="#000" stroke-width="2.2"/>
<path class="l" d="M276.4 72.4 L278.6 73.1"/>
<path class="l" d="M262.4 69.6 C263.4 70.0 267.2 70.9 268.5 72.2 C269.8 73.5 270.0 76.0 270.0 77.6 C270.0 79.3 269.5 81.1 268.7 82.2 C267.8 83.2 265.6 83.6 265.0 83.9"/>
<path class="l" d="M264.6 73.2 C264.9 73.8 266.5 75.4 266.7 76.7 C267.0 78.1 266.0 80.4 265.9 81.1"/>
<circle cx="257.8" cy="76.6" r="5.3" fill="#000"/>
<circle cx="257.8" cy="76.6" r="3.3" fill="none" stroke="#fff" stroke-width="0.8"/>
<circle cx="257.3" cy="76.6" r="1.5" fill="#fff"/>
<path d="M244.4 80.4 L255.4 76.7" fill="none" stroke="#000" stroke-width="3.8"/>
<path d="M246.2 79.8 L253.6 77.4" fill="none" stroke="#fff" stroke-width="1.0" stroke-dasharray="0.6 2.0"/>
<path class="w" d="M235.2 78.9 C235.7 77.8 237.4 77.0 238.7 76.7 C240.1 76.5 242.1 76.9 243.1 77.6 C244.2 78.3 245.0 79.8 245.0 81.1 C245.1 82.4 244.3 84.6 243.3 85.5 C242.2 86.4 240.0 86.8 238.7 86.5 C237.5 86.3 236.5 85.0 235.9 83.7 C235.4 82.5 234.8 80.1 235.2 78.9Z"/>
<path class="l" d="M237.4 78.5 C237.4 79.1 236.9 80.8 237.0 82.0 C237.1 83.2 238.1 85.3 238.3 85.9"/>
<path class="l" d="M255.2 83.7 C255.5 84.8 256.2 88.1 257.1 90.0 C258.0 92.0 259.3 94.1 260.6 95.3 C261.9 96.5 263.5 97.5 265.0 97.5 C266.5 97.5 268.3 96.3 269.4 95.3 C270.4 94.3 271.0 92.2 271.3 91.6"/>
<path class="l" d="M256.2 81.1 C256.7 81.8 257.7 84.8 258.9 85.5 C260.0 86.2 262.5 85.5 263.2 85.5"/>
<path class="k" d="M260.2 87.7 C260.5 86.3 262.7 85.5 264.1 85.5 C265.6 85.5 268.0 86.5 268.9 87.7 C269.9 88.8 270.2 91.2 269.8 92.5 C269.4 93.8 267.6 95.3 266.3 95.6 C265.0 95.8 263.0 95.1 261.9 93.8 C260.9 92.5 259.8 89.1 260.2 87.7Z"/>
<path d="M261.5 90.3 L265.0 88.6 L267.6 90.7" fill="none" stroke="#fff" stroke-width="1"/>
<path d="M262.8 92.9 L266.7 91.6" fill="none" stroke="#fff" stroke-width="1"/>
</g>
</svg>
</body></html>
